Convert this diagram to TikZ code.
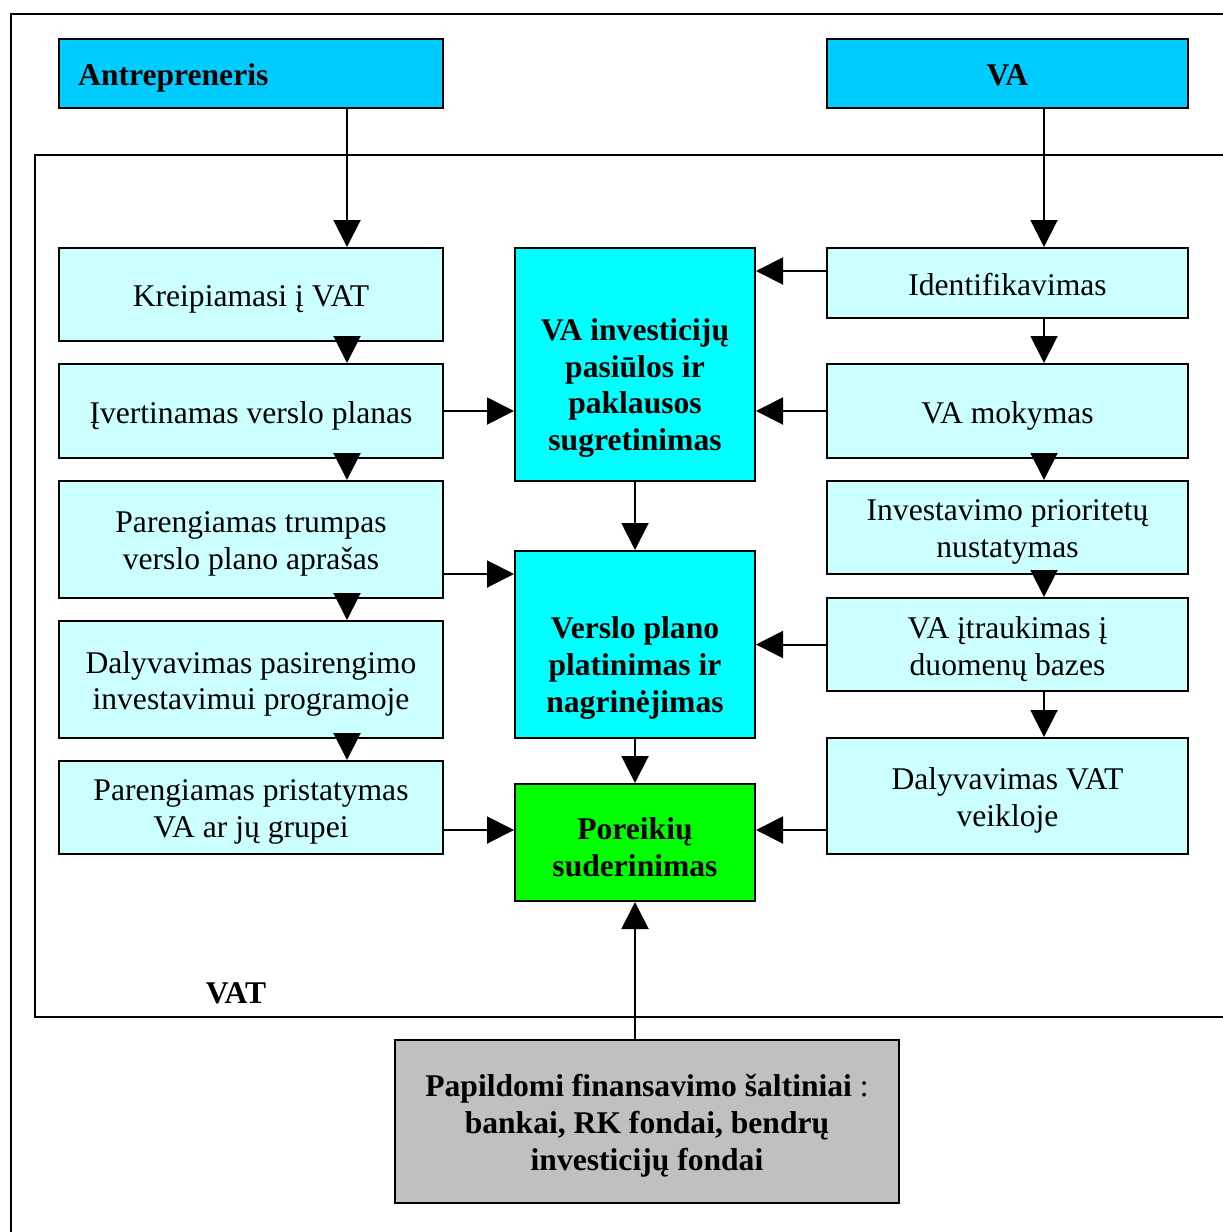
\documentclass[tikz,border=0pt]{standalone}
\usepackage{fontspec}
\setmainfont{Liberation Serif}
\usetikzlibrary{arrows.meta}
\definecolor{headblue}{HTML}{00CCFF}
\definecolor{lightcyan}{HTML}{CCFFFF}
\definecolor{midcyan}{HTML}{00FFFF}
\definecolor{matchgreen}{HTML}{00FF00}
\definecolor{srcgray}{HTML}{C0C0C0}
\begin{document}
\begin{tikzpicture}[x=1pt,y=1pt,
  base/.style={draw, line width=2pt, inner sep=0pt},
  stepbox/.style={base, fill=lightcyan},
  hubbox/.style={base, fill=midcyan},
  txt/.style={inner sep=0pt, align=center, yshift=-4.5pt,
    font=\fontsize{31.6}{36.8}\selectfont},
  btxt/.style={txt, font=\fontsize{31.6}{36.8}\selectfont\bfseries},
  flow/.style={line width=2pt, -{Triangle[length=27pt,width=27pt]}}
]
\useasboundingbox (0,0) rectangle (1223,-1232);
\clip (0,0) rectangle (1223,-1232);

% frames
\draw[line width=2pt] (1240,-14) -- (11,-14) -- (11,-1250);
\draw[line width=2pt] (1240,-155) -- (35,-155) -- (35,-1017) -- (1240,-1017);
\node[btxt, yshift=4.5pt] (vatlabel) at (236,-993) {VAT};

% top actors
\node[base, fill=headblue, minimum width=384pt, minimum height=69pt] (antr) at (251,-73.5) {};
\node[btxt, anchor=west] (antrt) at ([xshift=20pt]antr.west) {Antrepreneris};
\node[base, fill=headblue, minimum width=361pt, minimum height=69pt] (va) at (1007.5,-73.5) {};
\node[btxt, yshift=3pt] (vat) at (va.center) {VA};

% entrepreneur steps
\node[stepbox, minimum width=384pt, minimum height=93pt] (k1) at (251,-294.5) {};
\node[txt] (k1t) at (k1.center) {Kreipiamasi į VAT};
\node[stepbox, minimum width=384pt, minimum height=94pt] (k2) at (251,-411) {};
\node[txt] (k2t) at (k2.center) {Įvertinamas verslo planas};
\node[stepbox, minimum width=384pt, minimum height=117pt] (k3) at (251,-539.5) {};
\node[txt] (k3t) at (k3.center) {Parengiamas trumpas\\verslo plano aprašas};
\node[stepbox, minimum width=384pt, minimum height=117pt] (k4) at (251,-679.5) {};
\node[txt] (k4t) at (k4.center) {Dalyvavimas pasirengimo\\investavimui programoje};
\node[stepbox, minimum width=384pt, minimum height=93pt] (k5) at (251,-807.5) {};
\node[txt] (k5t) at (k5.center) {Parengiamas pristatymas\\VA ar jų grupei};

% central stages
\node[hubbox, minimum width=240pt, minimum height=233pt] (c1) at (635,-364.5) {};
\node[btxt, yshift=-19pt] (c1t) at (c1.center) {VA investicijų\\pasiūlos ir\\paklausos\\sugretinimas};
\node[hubbox, minimum width=240pt, minimum height=187pt] (c2) at (635,-644.5) {};
\node[btxt, yshift=-19pt] (c2t) at (c2.center) {Verslo plano\\platinimas ir\\nagrinėjimas};
\node[base, fill=matchgreen, minimum width=240pt, minimum height=117pt] (c3) at (635,-842.5) {};
\node[btxt] (c3t) at (c3.center) {Poreikių\\suderinimas};

% investor steps
\node[stepbox, minimum width=361pt, minimum height=70pt] (r1) at (1007.5,-283) {};
\node[txt, yshift=3pt] (r1t) at (r1.center) {Identifikavimas};
\node[stepbox, minimum width=361pt, minimum height=94pt] (r2) at (1007.5,-411) {};
\node[txt] (r2t) at (r2.center) {VA mokymas};
\node[stepbox, minimum width=361pt, minimum height=93pt] (r3) at (1007.5,-527.5) {};
\node[txt] (r3t) at (r3.center) {Investavimo prioritetų\\nustatymas};
\node[stepbox, minimum width=361pt, minimum height=93pt] (r4) at (1007.5,-644.5) {};
\node[txt] (r4t) at (r4.center) {VA įtraukimas į\\duomenų bazes};
\node[stepbox, minimum width=361pt, minimum height=116pt] (r5) at (1007.5,-796) {};
\node[txt] (r5t) at (r5.center) {Dalyvavimas VAT\\veikloje};

% extra funding
\node[base, fill=srcgray, minimum width=504pt, minimum height=163pt] (src) at (647,-1121.5) {};
\node[txt] (srct) at (src.center)
  {\textbf{Papildomi finansavimo šaltiniai} :\\\textbf{bankai, RK fondai, bendrų}\\\textbf{investicijų fondai}};

% connector guides
\coordinate (xl) at (347,0);
\coordinate (xr) at (1044,0);
\coordinate (xc) at (635,0);
\coordinate (ya) at (0,-271);
\coordinate (yb) at (0,-574);
\coordinate (yc) at (0,-830);

% vertical flows
\draw[flow] (antr.south -| xl) -- (k1.north -| xl);
\draw[flow] (k1.south -| xl) -- (k2.north -| xl);
\draw[flow] (k2.south -| xl) -- (k3.north -| xl);
\draw[flow] (k3.south -| xl) -- (k4.north -| xl);
\draw[flow] (k4.south -| xl) -- (k5.north -| xl);

\draw[flow] (va.south -| xr) -- (r1.north -| xr);
\draw[flow] (r1.south -| xr) -- (r2.north -| xr);
\draw[flow] (r2.south -| xr) -- (r3.north -| xr);
\draw[flow] (r3.south -| xr) -- (r4.north -| xr);
\draw[flow] (r4.south -| xr) -- (r5.north -| xr);

\draw[flow] (c1.south -| xc) -- (c2.north -| xc);
\draw[flow] (c2.south -| xc) -- (c3.north -| xc);
\draw[flow] (src.north -| xc) -- (c3.south -| xc);

% horizontal flows
\draw[flow] (k2.east) -- (c1.west |- k2.east);
\draw[flow] (k3.east |- yb) -- (c2.west |- yb);
\draw[flow] (k5.east |- yc) -- (c3.west |- yc);
\draw[flow] (r1.west |- ya) -- (c1.east |- ya);
\draw[flow] (r2.west) -- (c1.east |- r2.west);
\draw[flow] (r4.west) -- (c2.east |- r4.west);
\draw[flow] (r5.west |- yc) -- (c3.east |- yc);
\end{tikzpicture}
\end{document}
